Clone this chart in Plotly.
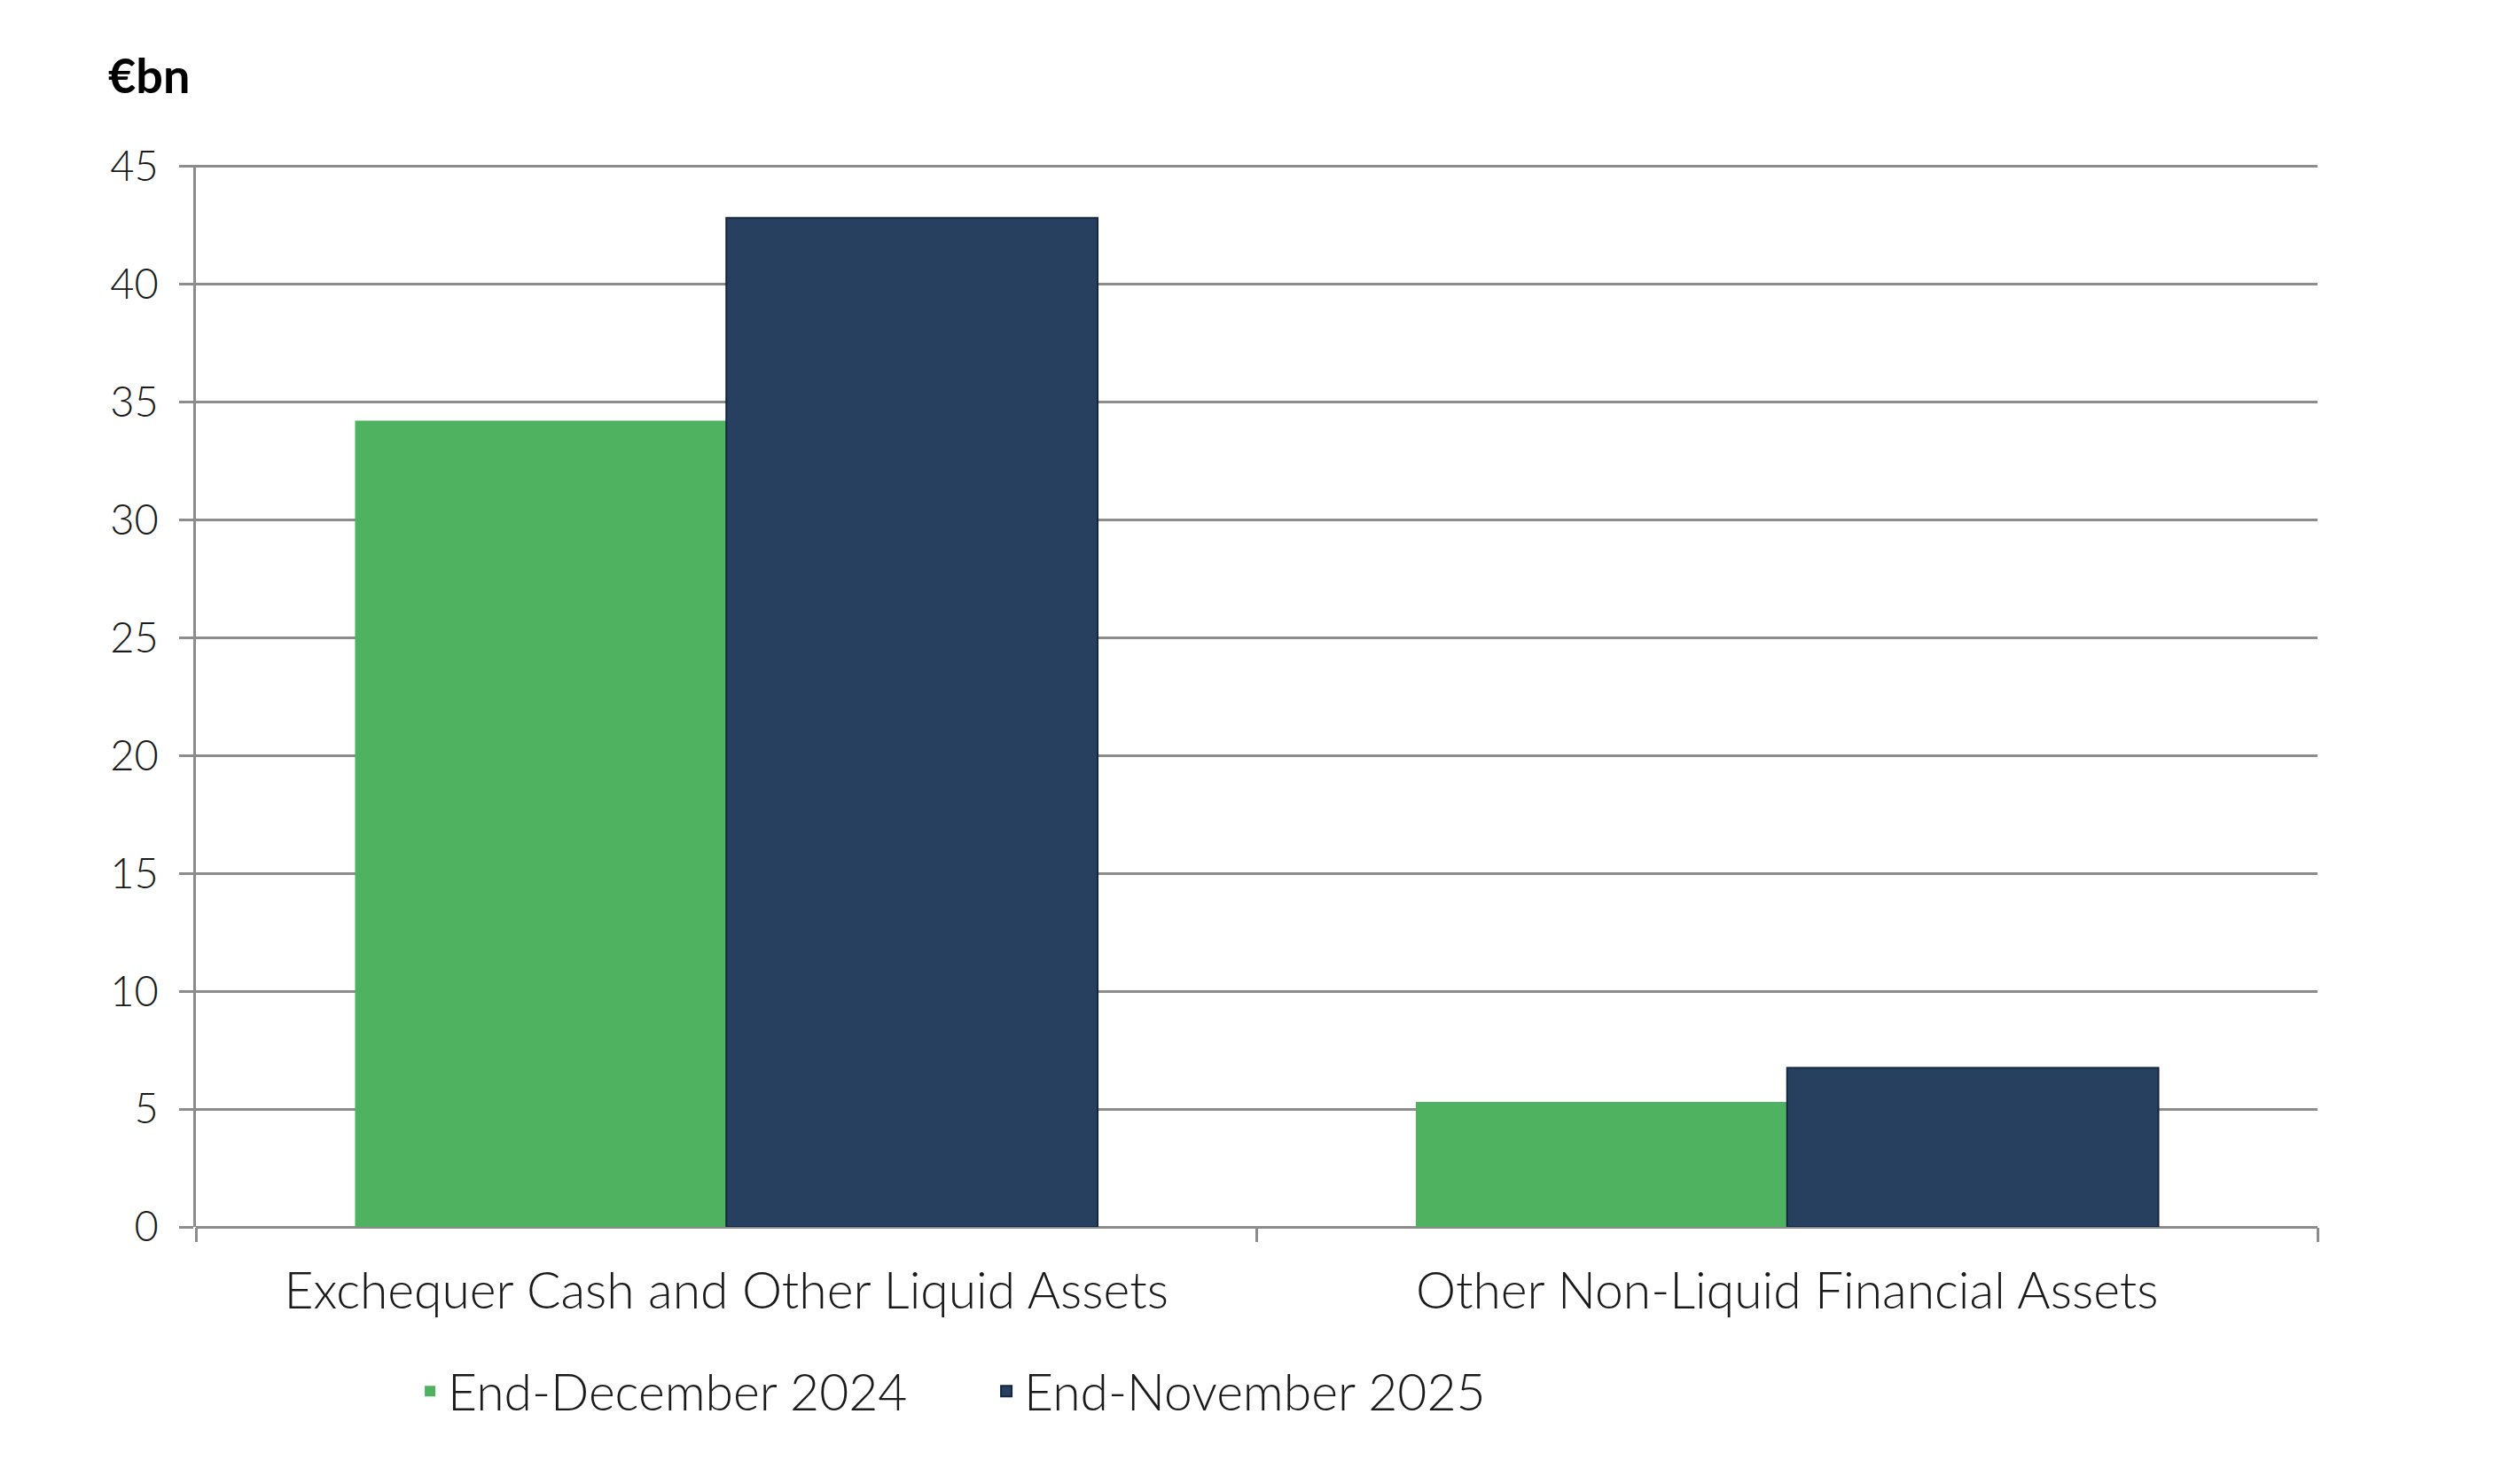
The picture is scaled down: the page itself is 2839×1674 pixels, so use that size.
import plotly.graph_objects as go

categories = ["Exchequer Cash and Other Liquid Assets", "Other Non-Liquid Financial Assets"]
series_names = ["End-December 2024", "End-November 2025"]
dec_2024 = [34.2, 5.3]
nov_2025 = [42.8, 6.75]
y_ticks = [0, 5, 10, 15, 20, 25, 30, 35, 40, 45]

W, H = 2839, 1674
L, R, T, B = 221, 225, 186, 290
FONT = "Lato"
GRID = "#8c8c8c"

fig = go.Figure()
fig.add_trace(go.Bar(
    x=categories, y=dec_2024, name=series_names[0],
    marker=dict(color="#4eb260", line=dict(width=0)),
))
fig.add_trace(go.Bar(
    x=categories, y=nov_2025, name=series_names[1],
    marker=dict(color="#27405f", line=dict(color="#15263e", width=2)),
))

fig.update_layout(
    width=W, height=H,
    margin=dict(l=L, r=R, t=T, b=B, pad=0),
    paper_bgcolor="white", plot_bgcolor="white",
    barmode="group", bargap=0.3, bargroupgap=0,
    font=dict(family=FONT, color="#1a1a1a", weight=300),
    showlegend=True,
    legend=dict(
        orientation="h", x=0.102, xanchor="left", y=-0.155, yanchor="middle",
        font=dict(family=FONT, size=57, color="#1a1a1a", weight=300),
        itemwidth=30, tracegroupgap=0, entrywidth=605, entrywidthmode="pixels",
    ),
    annotations=[dict(
        text="<b>€bn</b>", xref="paper", yref="paper",
        x=-0.042, y=1.085, xanchor="left", yanchor="middle",
        showarrow=False, font=dict(family=FONT, size=54, color="black", weight=900),
    )],
)

fig.update_xaxes(
    type="category", showgrid=False, showline=False, zeroline=False,
    ticks="outside", tickson="boundaries", ticklen=16, tickwidth=2.5, tickcolor=GRID,
    tickfont=dict(family=FONT, size=57, color="#1a1a1a", weight=300),
    ticklabelstandoff=34,
)
fig.update_yaxes(
    range=[0, 45.05], tickvals=y_ticks, showgrid=True, gridcolor=GRID, gridwidth=2.5,
    showline=True, linecolor=GRID, linewidth=2.5, zeroline=True, zerolinecolor=GRID, zerolinewidth=2.5,
    ticks="outside", ticklen=16, tickwidth=2.5, tickcolor=GRID,
    tickfont=dict(family=FONT, size=47, color="#1a1a1a", weight=300),
    ticklabelstandoff=14,
)

fig.write_html("out.html", config={"displayModeBar": False},
               post_script="document.body.style.margin='0px';")
